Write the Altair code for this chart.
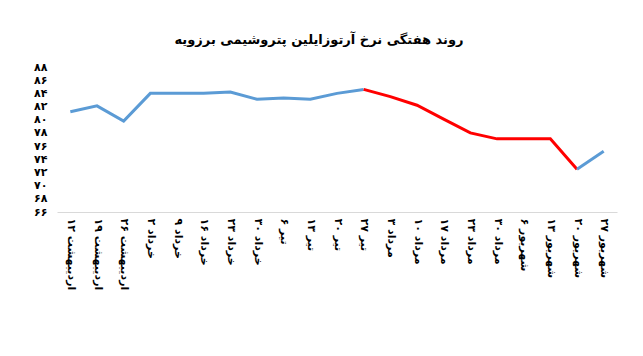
import altair as alt
import pandas as pd

title_text = "روند هفتگی نرخ آرتوزایلین پتروشیمی برزویه"

days = ["۱۲", "۱۹", "۲۶", "۲", "۹", "۱۶", "۲۳", "۳۰", "۶", "۱۳", "۲۰", "۲۷",
        "۳", "۱۰", "۱۷", "۲۳", "۳۰", "۶", "۱۳", "۲۰", "۲۷"]
months = ["اردیبهشت"] * 3 + ["خرداد"] * 5 + ["تیر"] * 4 + ["مرداد"] * 5 + ["شهریور"] * 4
values = [81.2, 82.1, 79.8, 84.0, 84.0, 84.0, 84.2, 83.1, 83.3, 83.1, 84.0,
          84.6, 83.5, 82.2, 80.1, 78.0, 77.1, 77.1, 77.1, 72.5, 75.2]
# segments: (first index, last index, colour group)
segments = [(0, 11, "blue"), (11, 19, "red"), (19, 20, "blue")]
y_ticks = list(range(66, 89, 2))

dates = [f"{d} {m}" for d, m in zip(days, months)]

rows = []
for s, (a, b, col) in enumerate(segments):
    for i in range(a, b + 1):
        rows.append({"date": dates[i], "idx": i, "value": values[i],
                     "seg": s, "col": col})
df = pd.DataFrame(rows)

P = "['۰','۱','۲','۳','۴','۵','۶','۷','۸','۹']"
label_expr = f"{P}[floor(datum.value/10)] + {P}[datum.value%10]"

chart = alt.Chart(df).mark_line(strokeWidth=3).encode(
    x=alt.X("date:N", sort=dates, title=None,
            scale=alt.Scale(paddingOuter=0.5, paddingInner=0),
            axis=alt.Axis(labelAngle=90, ticks=False, domainColor="#d9d9d9",
                          domainWidth=1, labelColor="#000000", labelFontSize=11,
                          labelFont="DejaVu Sans", labelPadding=6,
                          labelFontWeight="bold")),
    y=alt.Y("value:Q", title=None,
            scale=alt.Scale(domain=[66, 88], nice=False, zero=False),
            axis=alt.Axis(values=y_ticks, grid=False, domain=False, ticks=False,
                          labelExpr=label_expr, labelColor="#000000",
                          labelFontSize=11, labelFont="DejaVu Sans",
                          labelFontWeight="bold", labelPadding=10)),
    color=alt.Color("col:N", legend=None,
                    scale=alt.Scale(domain=["blue", "red"],
                                    range=["#5B9BD5", "#FF0000"])),
    detail="seg:N",
    order="idx:Q",
).properties(
    width=560, height=145,
    autosize="none",
    padding={"left": 49, "top": 59, "right": 18, "bottom": 136},
    title=alt.Title(title_text, font="DejaVu Sans", fontSize=13,
                    fontWeight="bold", color="#000000", anchor="middle",
                    dx=-18, offset=14),
).configure_view(stroke=None)

chart.save("out.html", embed_options={"renderer": "svg", "actions": False})
